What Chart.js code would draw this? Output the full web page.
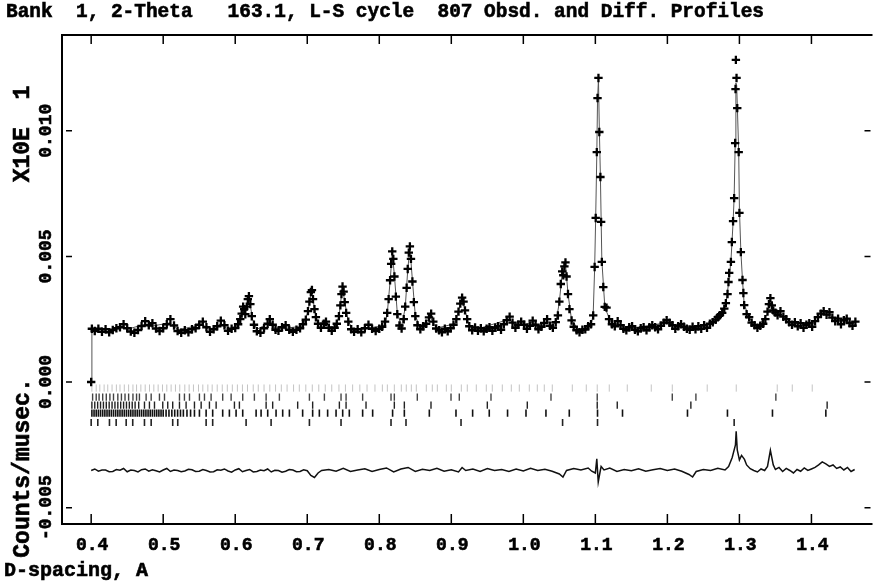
<!DOCTYPE html>
<html>
<head>
<meta charset="utf-8">
<title>Obsd. and Diff. Profiles</title>
<script src="https://cdn.jsdelivr.net/npm/chart.js@4.4.1/dist/chart.umd.min.js"></script>
<style>
  html, body { margin: 0; padding: 0; background: #fff; }
  #wrap { width: 877px; height: 584px; position: relative; }
</style>
</head>
<body>
<div id="wrap"><canvas id="rietveld"></canvas></div>
<script>
// texts
const titleText = "Bank  1, 2-Theta   163.1, L-S cycle  807 Obsd. and Diff. Profiles";
const xTitle = "D-spacing, A";
const yTitle = "Counts/musec.";
const yScaleNote = "X10E  1";

// axis ticks
const xTicks = [0.4, 0.5, 0.6, 0.7, 0.8, 0.9, 1.0, 1.1, 1.2, 1.3, 1.4];
const xTickLabels = ["0.4", "0.5", "0.6", "0.7", "0.8", "0.9", "1.0", "1.1", "1.2", "1.3", "1.4"];
const yTicks = [0.010, 0.005, 0.000, -0.005];
const yTickLabels = ["0.010", "0.005", "0.000", "-0.005"];

// observed profile (d-spacing, counts/musec)
const dObs = [
  0.400,0.401,0.405,0.410,0.415,0.420,0.425,0.430,0.435,0.440,
  0.445,0.450,0.455,0.460,0.465,0.470,0.475,0.480,0.485,0.490,
  0.495,0.500,0.505,0.510,0.515,0.520,0.525,0.530,0.535,0.540,
  0.545,0.550,0.555,0.560,0.565,0.570,0.575,0.580,0.585,0.590,
  0.595,0.600,0.604,0.607,0.609,0.611,0.6125,0.614,0.616,0.6175,
  0.619,0.621,0.623,0.626,0.630,0.635,0.640,0.645,0.648,0.652,
  0.656,0.660,0.665,0.670,0.675,0.680,0.685,0.690,0.694,0.698,
  0.701,0.703,0.705,0.7065,0.708,0.710,0.712,0.715,0.719,0.723,
  0.726,0.730,0.734,0.738,0.741,0.744,0.746,0.7475,0.749,0.7505,
  0.752,0.754,0.757,0.761,0.765,0.770,0.775,0.780,0.785,0.790,
  0.795,0.800,0.804,0.808,0.811,0.813,0.815,0.8165,0.818,0.8195,
  0.821,0.823,0.825,0.828,0.831,0.834,0.836,0.838,0.8395,0.841,
  0.8425,0.844,0.846,0.848,0.850,0.853,0.857,0.861,0.865,0.869,
  0.872,0.875,0.879,0.883,0.887,0.891,0.895,0.899,0.903,0.907,
  0.910,0.9125,0.915,0.917,0.919,0.922,0.925,0.929,0.933,0.937,
  0.941,0.945,0.949,0.953,0.957,0.961,0.965,0.969,0.973,0.977,
  0.981,0.985,0.989,0.993,0.997,1.001,1.005,1.009,1.013,1.017,
  1.021,1.025,1.029,1.033,1.037,1.041,1.045,1.048,1.050,1.052,
  1.054,1.0555,1.057,1.0585,1.060,1.062,1.064,1.067,1.070,1.074,
  1.078,1.082,1.086,1.090,1.094,1.097,1.099,1.1005,1.102,1.103,
  1.1043,1.1055,1.107,1.108,1.109,1.111,1.113,1.1155,1.119,1.123,
  1.127,1.131,1.135,1.139,1.143,1.147,1.151,1.155,1.159,1.163,
  1.167,1.171,1.175,1.179,1.183,1.187,1.191,1.195,1.199,1.203,
  1.207,1.211,1.215,1.219,1.223,1.227,1.231,1.235,1.239,1.243,
  1.247,1.251,1.255,1.259,1.263,1.267,1.270,1.273,1.2761,1.2790,
  1.2812,1.2835,1.2848,1.2858,1.2882,1.2895,1.2912,1.2927,1.2941,1.2946,
  1.2951,1.2960,1.2970,1.2990,1.3000,1.3020,1.3043,1.3055,1.3066,1.3100,
  1.3135,1.317,1.321,1.325,1.329,1.333,1.336,1.339,1.341,1.343,
  1.345,1.347,1.350,1.353,1.357,1.361,1.365,1.369,1.373,1.377,
  1.381,1.385,1.389,1.393,1.397,1.401,1.405,1.409,1.413,1.417,
  1.421,1.425,1.429,1.433,1.437,1.441,1.445,1.449,1.453,1.457,
  1.461
];
const obs = [
  0,.00212,.00203,.00212,.00200,.00210,.00198,.00207,.00214,.00218,
  .00230,.00214,.00201,.00196,.00207,.00223,.00242,.00226,.00234,.00213,
  .00203,.00214,.00230,.00250,.00225,.00203,.00196,.00206,.00198,.00210,
  .00214,.00228,.00240,.00218,.00200,.00210,.00222,.00244,.00226,.00204,
  .00212,.00215,.00230,.00250,.00272,.00300,.00290,.00270,.00300,.00330,
  .00342,.00310,.00262,.00228,.00202,.00196,.00214,.00232,.00250,.00228,
  .00208,.00204,.00218,.00226,.00208,.00200,.00208,.00214,.00230,.00248,
  .00282,.00320,.00358,.00366,.00330,.00290,.00258,.00232,.00216,.00232,
  .00240,.00216,.00204,.00216,.00232,.00262,.00305,.00350,.00380,.00360,
  .00318,.00275,.00240,.00210,.00200,.00210,.00198,.00214,.00228,.00212,
  .00203,.00212,.00220,.00240,.00275,.00330,.00405,.00470,.00520,.00490,
  .00420,.00340,.00270,.00225,.00213,.00250,.00300,.00375,.00450,.00515,
  .00540,.00490,.00400,.00318,.00262,.00226,.00210,.00222,.00232,.00257,
  .00272,.00240,.00213,.00206,.00198,.00212,.00202,.00214,.00228,.00250,
  .00280,.00312,.00336,.00320,.00285,.00250,.00222,.00206,.00217,.00204,
  .00214,.00202,.00212,.00218,.00204,.00216,.00222,.00208,.00230,.00246,
  .00260,.00236,.00216,.00228,.00240,.00228,.00212,.00224,.00244,.00228,
  .00210,.00220,.00235,.00250,.00224,.00216,.00238,.00265,.00320,.00390,
  .00440,.00425,.00460,.00476,.00420,.00350,.00290,.00245,.00220,.00206,
  .00198,.00208,.00210,.00222,.00230,.00265,.00458,.00653,.00915,.01130,
  .01210,.00995,.00816,.00637,.00478,.00378,.00299,.00296,.00250,.00230,
  .00222,.00242,.00226,.00212,.00206,.00218,.00222,.00208,.00202,.00214,
  .00218,.00206,.00218,.00226,.00218,.00210,.00224,.00236,.00246,.00236,
  .00226,.00212,.00222,.00230,.00220,.00212,.00208,.00220,.00210,.00222,
  .00212,.00226,.00216,.00232,.00238,.00248,.00258,.00266,.00275,.00292,
  .00314,.00350,.00398,.00434,.00478,.00557,.00640,.00732,.00951,.01166,
  .01282,.01210,.01090,.00915,.00673,.00517,.00406,.00354,.00306,.00270,
  .00258,.00236,.00226,.00216,.00224,.00232,.00250,.00280,.00310,.00334,
  .00305,.00285,.00276,.00266,.00282,.00260,.00250,.00238,.00228,.00238,
  .00222,.00234,.00216,.00228,.00234,.00220,.00242,.00258,.00272,.00282,
  .00268,.00278,.00256,.00242,.00252,.00230,.00246,.00252,.00234,.00224,
  .00240
];

// calculated profile
const dCalc = [
  0.400,0.401,0.440,0.445,0.450,0.475,0.480,0.510,0.520,0.555,
  0.565,0.580,0.590,0.604,0.609,0.611,0.6125,0.614,0.6175,0.619,
  0.621,0.624,0.630,0.648,0.656,0.694,0.701,0.705,0.7065,0.710,
  0.715,0.725,0.738,0.744,0.7475,0.749,0.752,0.757,0.765,0.808,
  0.811,0.815,0.818,0.821,0.825,0.831,0.836,0.8395,0.8425,0.846,
  0.850,0.857,0.871,0.879,0.905,0.9125,0.915,0.919,0.925,0.935,
  0.981,0.990,1.013,1.021,1.033,1.045,1.050,1.054,1.0555,1.0585,
  1.062,1.067,1.078,1.094,1.097,1.099,1.1005,1.102,1.103,1.1043,
  1.1055,1.107,1.109,1.113,1.1155,1.123,1.131,1.145,1.199,1.231,
  1.263,1.2761,1.2812,1.2848,1.2882,1.2912,1.2927,1.2941,1.2951,1.2962,
  1.2990,1.3000,1.3020,1.3043,1.3066,1.3135,1.325,1.339,1.343,1.347,
  1.357,1.373,1.405,1.417,1.433,1.461
];
const calc = [
  0,.00208,.00212,.00222,.00210,.00230,.00220,.00236,.00208,.00228,
  .00206,.00232,.00210,.00225,.00268,.00295,.00288,.00275,.00325,.00340,
  .00305,.00250,.00210,.00236,.00210,.00222,.00280,.00350,.00360,.00292,
  .00232,.00228,.00212,.00260,.00345,.00375,.00320,.00240,.00205,.00225,
  .00270,.00400,.00515,.00425,.00275,.00222,.00295,.00445,.00535,.00405,
  .00265,.00214,.00258,.00214,.00232,.00310,.00332,.00285,.00224,.00210,
  .00250,.00220,.00238,.00214,.00240,.00232,.00318,.00436,.00430,.00470,
  .00352,.00246,.00204,.00226,.00270,.00450,.00660,.00905,.01120,.01205,
  .01010,.00820,.00485,.00305,.00280,.00230,.00232,.00212,.00236,.00214,
  .00236,.00270,.00310,.00390,.00480,.00635,.00735,.00940,.01190,.01180,
  .00920,.00690,.00520,.00405,.00310,.00255,.00222,.00270,.00320,.00282,
  .00272,.00232,.00236,.00276,.00246,.00236
];

// difference curve (obs - calc, drawn with its offset)
const dDiff = [
  0.400,0.405,0.41,0.415,0.42,0.425,0.43,0.435,0.44,0.445,
  0.45,0.455,0.46,0.465,0.47,0.475,0.48,0.485,0.49,0.495,
  0.50,0.505,0.51,0.515,0.52,0.525,0.53,0.535,0.54,0.545,
  0.55,0.555,0.56,0.565,0.57,0.575,0.58,0.585,0.59,0.595,
  0.60,0.605,0.61,0.615,0.62,0.625,0.63,0.635,0.64,0.645,
  0.65,0.655,0.66,0.665,0.67,0.675,0.68,0.685,0.69,0.695,
  0.70,0.705,0.71,0.715,0.72,0.73,0.74,0.75,0.76,0.77,
  0.78,0.79,0.80,0.81,0.82,0.83,0.84,0.85,0.86,0.87,
  0.88,0.89,0.90,0.91,0.915,0.92,0.93,0.94,0.95,0.96,
  0.97,0.98,0.99,1.00,1.01,1.02,1.03,1.04,1.05,1.055,
  1.06,1.07,1.08,1.09,1.095,1.100,1.102,1.104,1.106,1.108,
  1.112,1.12,1.13,1.14,1.15,1.16,1.17,1.18,1.19,1.20,
  1.21,1.22,1.23,1.235,1.24,1.25,1.26,1.27,1.28,1.285,
  1.29,1.2945,1.2955,1.297,1.30,1.303,1.307,1.31,1.315,1.32,
  1.325,1.33,1.335,1.339,1.343,1.347,1.35,1.355,1.36,1.365,
  1.37,1.375,1.38,1.385,1.39,1.395,1.40,1.405,1.41,1.415,
  1.42,1.425,1.43,1.435,1.44,1.445,1.45,1.455,1.46
];
const diff = [
  -.00352,-.00346,-.00355,-.00350,-.00350,-.00357,-.00356,-.00348,-.00351,-.00344,
  -.00357,-.00350,-.00352,-.00358,-.00349,-.00346,-.00355,-.00349,-.00353,-.00358,
  -.00350,-.00344,-.00356,-.00350,-.00352,-.00357,-.00354,-.00347,-.00349,-.00356,
  -.00355,-.00348,-.00352,-.00358,-.00357,-.00349,-.00351,-.00346,-.00354,-.00359,
  -.00350,-.00345,-.00357,-.00352,-.00348,-.00358,-.00356,-.00350,-.00353,-.00346,
  -.00358,-.00351,-.00352,-.00359,-.00355,-.00348,-.00350,-.00357,-.00356,-.00349,
  -.00353,-.00372,-.00380,-.00362,-.00352,-.00348,-.00355,-.00343,-.00356,-.00350,
  -.00345,-.00356,-.00348,-.00342,-.00358,-.00346,-.00340,-.00356,-.00347,-.00352,
  -.00343,-.00355,-.00349,-.00358,-.00340,-.00352,-.00346,-.00356,-.00344,-.00352,
  -.00348,-.00356,-.00346,-.00354,-.00343,-.00352,-.00347,-.00355,-.00366,-.00378,
  -.00352,-.00344,-.00350,-.00342,-.00355,-.00362,-.00306,-.00398,-.00366,-.00336,
  -.00350,-.00342,-.00356,-.00348,-.00353,-.00345,-.00355,-.00349,-.00344,-.00352,
  -.00346,-.00355,-.00368,-.00378,-.00356,-.00348,-.00352,-.00343,-.00350,-.00336,
  -.00300,-.00250,-.00196,-.00270,-.00310,-.00292,-.00308,-.00330,-.00345,-.00352,
  -.00358,-.00346,-.00352,-.00336,-.00272,-.00330,-.00348,-.00340,-.00356,-.00344,
  -.00352,-.00362,-.00348,-.00355,-.00342,-.00352,-.00346,-.00340,-.00330,-.00318,
  -.00326,-.00336,-.00330,-.00344,-.00338,-.00350,-.00340,-.00356,-.00348
];

// reflection positions, one list per phase
const phase1 = [
  0.401,0.407,0.412,0.418,0.423,0.429,0.435,0.440,0.446,0.452,0.458,0.463,0.469,0.475,
  0.481,0.487,0.493,0.499,0.505,0.511,0.517,0.523,0.530,0.536,0.542,0.549,0.555,0.562,
  0.568,0.575,0.582,0.589,0.596,0.603,0.610,0.617,0.625,0.632,0.640,0.648,0.656,0.664,
  0.672,0.681,0.689,0.698,0.707,0.716,0.725,0.734,0.744,0.753,0.763,0.773,0.783,0.794,
  0.8043,0.8112,0.8209,0.8306,0.8375,0.8445,0.8514,0.8653,0.8736,0.8806,0.8931,0.9000,
  0.9139,0.9222,0.9347,0.9486,0.9569,0.9708,0.9833,0.9944,1.0083,1.0194,1.0291,1.0402,
  1.0680,1.0874,1.1026,1.1193,1.1443,1.1776,1.2068,1.2553,1.2956,1.3525,1.3734,1.4011
];
const phase2 = [
  0.402,0.407,0.411,0.416,0.421,0.426,0.431,0.437,0.442,0.447,0.452,0.458,0.463,0.467,
  0.4763,0.4833,0.4948,0.5018,0.5226,0.5295,0.5365,0.5503,0.5573,0.5665,0.5826,0.5943,
  0.6104,0.6266,0.6429,0.6613,0.703,0.7238,0.7469,0.7539,0.7769,0.8163,0.8209,0.8528,
  0.8996,0.9111,0.9551,1.0384,1.1026,1.2068,1.2396,1.3506
];
const phase3 = [
  0.401,0.405,0.409,0.413,0.417,0.421,0.425,0.429,0.433,0.437,0.441,0.445,0.449,0.453,
  0.457,0.461,0.466,0.474,0.4809,0.4879,0.4994,0.5063,0.5132,0.5226,0.5318,0.5434,
  0.5527,0.5642,0.5735,0.5989,0.6058,0.6429,0.652,0.6867,0.7075,0.7446,0.7539,0.7816,
  0.8209,0.8348,0.8718,0.95,1.0055,1.1026,1.1304,1.2326,1.4218
];
const phase4 = [
  0.401,0.404,0.407,0.410,0.413,0.416,0.419,0.422,0.425,0.428,0.431,0.434,0.437,0.440,
  0.443,0.446,0.449,0.452,0.455,0.458,0.461,0.464,0.467,0.470,0.473,0.476,0.479,0.482,
  0.485,0.488,0.491,0.494,0.497,0.500,0.504,0.508,0.512,0.516,0.520,0.524,0.528,0.533,
  0.538,0.5434,0.5503,0.5596,0.5687,0.5826,0.5919,0.6012,0.6104,0.629,0.6359,0.6451,
  0.6567,0.6659,0.6752,0.6936,0.7075,0.7168,0.7283,0.74,0.7492,0.7584,0.7769,0.7908,
  0.8185,0.8348,0.8695,0.9065,0.9296,0.9527,0.9781,1.0037,1.0314,1.0638,1.103,1.1377,
  1.2279,1.2834,1.3459,1.42
];
const phase5 = [
  0.4,0.4092,0.4254,0.4347,0.4486,0.4577,0.474,0.4833,0.5132,0.5202,0.5596,0.5687,
  0.6151,0.6498,0.703,0.7469,0.8163,0.8371,0.9135,1.0545,1.103,1.2927
];

function pairs(xs, ys) {
  return xs.map((d, i) => ({ x: d, y: ys[i] }));
}

function tickRow(list, level, color, width) {
  return {
    label: "reflections",
    data: list.map(d => ({ x: d, y: level })),
    pointStyle: "line",
    rotation: 90,
    pointRadius: 3.6,
    borderColor: color,
    pointBorderWidth: width,
    showLine: false,
  };
}

function heavyText(ctx, t, x, y, maxW) {
  ctx.fillText(t, x, y, maxW);
  ctx.strokeText(t, x, y, maxW);
}

// frame, inward ticks and all axis texts
const gsasFrame = {
  id: "gsasFrame",
  afterDatasetsDraw(chart) {
    const { ctx, chartArea: a } = chart;
    const x = chart.scales.x;
    const y = chart.scales.y;
    ctx.save();
    ctx.strokeStyle = "#000";
    ctx.fillStyle = "#000";
    ctx.lineWidth = 2;
    ctx.beginPath();
    ctx.moveTo(a.right + 2, a.top);
    ctx.lineTo(a.left, a.top);
    ctx.lineTo(a.left, a.bottom);
    ctx.lineTo(a.right + 2, a.bottom);
    ctx.stroke();

    ctx.lineWidth = 1.5;
    ctx.beginPath();
    xTicks.forEach(v => {
      const px = x.getPixelForValue(v);
      ctx.moveTo(px, a.bottom);
      ctx.lineTo(px, a.bottom - 10);
      ctx.moveTo(px, a.top);
      ctx.lineTo(px, a.top + 9);
    });
    yTicks.forEach(v => {
      const py = y.getPixelForValue(v);
      ctx.moveTo(a.left + 4, py);
      ctx.lineTo(a.left + 10, py);
      ctx.moveTo(a.right, py);
      ctx.lineTo(a.right - 6, py);
    });
    ctx.stroke();

    ctx.lineWidth = 0.6;
    ctx.font = 'bold 18px "Liberation Mono"';
    ctx.textAlign = "center";
    ctx.textBaseline = "alphabetic";
    xTicks.forEach((v, i) => {
      heavyText(ctx, xTickLabels[i], x.getPixelForValue(v) + 1, a.bottom + 26);
    });
    yTicks.forEach((v, i) => {
      ctx.save();
      ctx.translate(a.left - 11, y.getPixelForValue(v));
      ctx.rotate(-Math.PI / 2);
      heavyText(ctx, yTickLabels[i], 0, 0);
      ctx.restore();
    });

    ctx.font = 'bold 23px "Liberation Mono"';
    [[yTitle, 468], [yScaleNote, 134]].forEach(([t, cy]) => {
      ctx.save();
      ctx.translate(29, cy);
      ctx.rotate(-Math.PI / 2);
      heavyText(ctx, t, 0, 0);
      ctx.restore();
    });

    ctx.textAlign = "left";
    ctx.font = 'bold 20px "Liberation Mono"';
    heavyText(ctx, titleText, 6, 17, 758);
    heavyText(ctx, xTitle, 4, 576);
    ctx.restore();
  },
};

new Chart(document.getElementById("rietveld").getContext("2d"), {
  type: "scatter",
  data: {
    datasets: [
      {
        label: "Obsd.",
        data: pairs(dObs, obs),
        pointStyle: "cross",
        pointRadius: 4.2,
        borderColor: "#000",
        pointBorderWidth: 2.3,
        showLine: false,
      },
      {
        label: "Calc.",
        data: pairs(dCalc, calc),
        showLine: true,
        pointRadius: 0,
        borderColor: "#555",
        borderWidth: 1,
      },
      {
        label: "Diff.",
        data: pairs(dDiff, diff),
        showLine: true,
        pointRadius: 0,
        borderColor: "#111",
        borderWidth: 1.5,
      },
      tickRow(phase1, -0.00024, "#c4c4c4", 1),
      tickRow(phase2, -0.00060, "#444", 1.4),
      tickRow(phase3, -0.00092, "#222", 1.4),
      tickRow(phase4, -0.00124, "#111", 1.6),
      tickRow(phase5, -0.00161, "#222", 1.6),
    ],
  },
  options: {
    responsive: true,
    maintainAspectRatio: false,
    animation: false,
    events: [],
    layout: { padding: { left: 62, top: 35, right: 0, bottom: 60 } },
    plugins: { legend: { display: false }, tooltip: { enabled: false } },
    scales: {
      x: { type: "linear", display: false, min: 0.3595, max: 1.482 },
      y: { type: "linear", display: false, min: -0.00565, max: 0.01381 },
    },
  },
  plugins: [gsasFrame],
});
</script>
</body>
</html>
